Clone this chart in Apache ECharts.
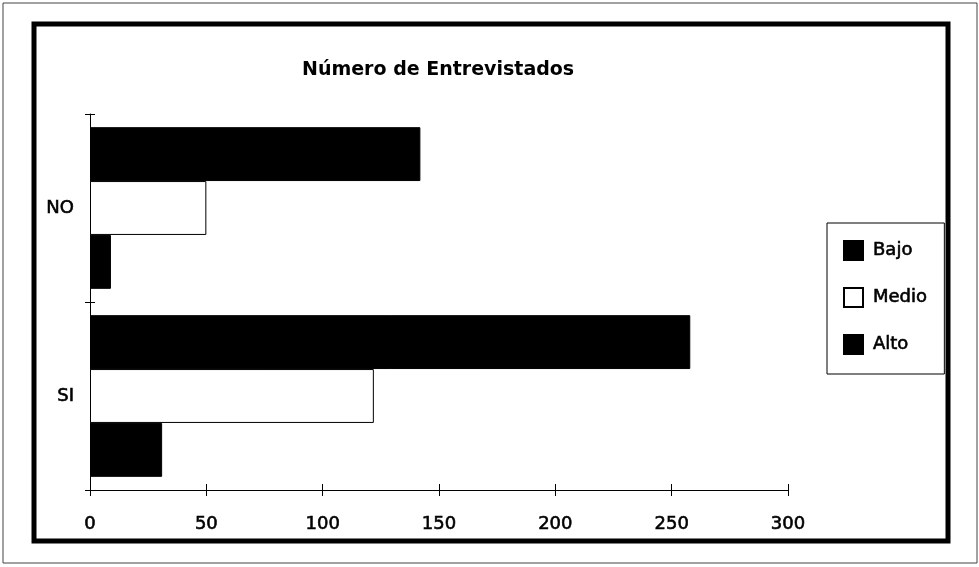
<!DOCTYPE html>
<html>
<head>
<meta charset="utf-8">
<script src="https://cdn.jsdelivr.net/npm/echarts@6/dist/echarts.min.js"></script>
<style>
html,body{margin:0;padding:0;background:#fff;}
#c{width:979px;height:567px;}
</style>
</head>
<body>
<div id="c"></div>
<script>
var titleText = 'Número de Entrevistados';
var categories = ['NO', 'SI'];
var seriesNames = ['Bajo', 'Medio', 'Alto'];
var bajo = [142, 258];
var medio = [50, 122];
var alto = [9, 31];
var xTicks = [0, 50, 100, 150, 200, 250, 300];

var FONT = 'DejaVu Sans';
var chart = echarts.init(document.getElementById('c'), null, {renderer: 'canvas'});

var seriesData = [bajo, medio, alto];
var fills = ['#000000', '#ffffff', '#000000'];

var option = {
  animation: false,
  backgroundColor: '#ffffff',
  title: {
    text: titleText,
    left: 302,
    top: 61,
    padding: 0,
    textStyle: {fontFamily: FONT, fontWeight: 'bold', fontSize: 19, color: '#000'}
  },
  legend: {
    orient: 'vertical',
    left: 827,
    top: 223,
    padding: [17, 17, 19, 16],
    itemWidth: 19,
    itemHeight: 19,
    itemGap: 26,
    borderColor: '#000',
    borderWidth: 1,
    icon: 'rect',
    data: seriesNames,
    textStyle: {fontFamily: FONT, fontSize: 18, color: '#000', padding: [0, 0, 0, 5],
                textBorderColor: '#000', textBorderWidth: 0.6}
  },
  grid: {left: 90, right: 191, top: 114, bottom: 77, containLabel: false},
  xAxis: [{
    // ticks crossing the axis line: axis drawn 6px higher with 12px ticks
    type: 'value',
    min: 0, max: 300, interval: 50,
    position: 'bottom',
    offset: -6,
    axisLine: {show: false},
    axisTick: {show: true, length: 12, lineStyle: {color: '#000', width: 1}},
    axisLabel: {
      margin: 31, fontFamily: FONT, fontSize: 18, color: '#000',
      textBorderColor: '#000', textBorderWidth: 0.6,
      formatter: function (v) { return xTicks.indexOf(v) >= 0 ? String(v) : ''; }
    },
    splitLine: {show: false}
  }, {
    type: 'value',
    min: 0, max: 300, interval: 50,
    position: 'bottom',
    axisLine: {show: true, lineStyle: {color: '#000', width: 1}},
    axisTick: {show: false},
    axisLabel: {show: false},
    splitLine: {show: false}
  }],
  yAxis: [{
    type: 'category',
    data: categories,
    inverse: true,
    position: 'left',
    offset: -5,
    axisLine: {show: false},
    axisTick: {show: true, length: 10, lineStyle: {color: '#000', width: 1}},
    axisLabel: {margin: 21, fontFamily: FONT, fontSize: 18, color: '#000',
                textBorderColor: '#000', textBorderWidth: 0.6},
    splitLine: {show: false}
  }, {
    type: 'category',
    data: categories,
    inverse: true,
    position: 'left',
    axisLine: {show: true, lineStyle: {color: '#000', width: 1}},
    axisTick: {show: false},
    axisLabel: {show: false},
    splitLine: {show: false}
  }],
  series: seriesNames.map(function (name, i) {
    return {
      name: name,
      type: 'bar',
      xAxisIndex: 0,
      yAxisIndex: 0,
      data: seriesData[i],
      barGap: '0%',
      barCategoryGap: '14%',
      itemStyle: {color: fills[i], borderColor: '#000', borderWidth: 1}
    };
  }),
  graphic: [{
    type: 'rect',
    shape: {x: 3, y: 3, width: 974, height: 560},
    style: {fill: 'none', stroke: '#444', lineWidth: 1},
    silent: true
  }, {
    type: 'rect',
    shape: {x: 34, y: 24, width: 914, height: 517},
    style: {fill: 'none', stroke: '#000', lineWidth: 5},
    silent: true
  }]
};
chart.setOption(option);
</script>
</body>
</html>
